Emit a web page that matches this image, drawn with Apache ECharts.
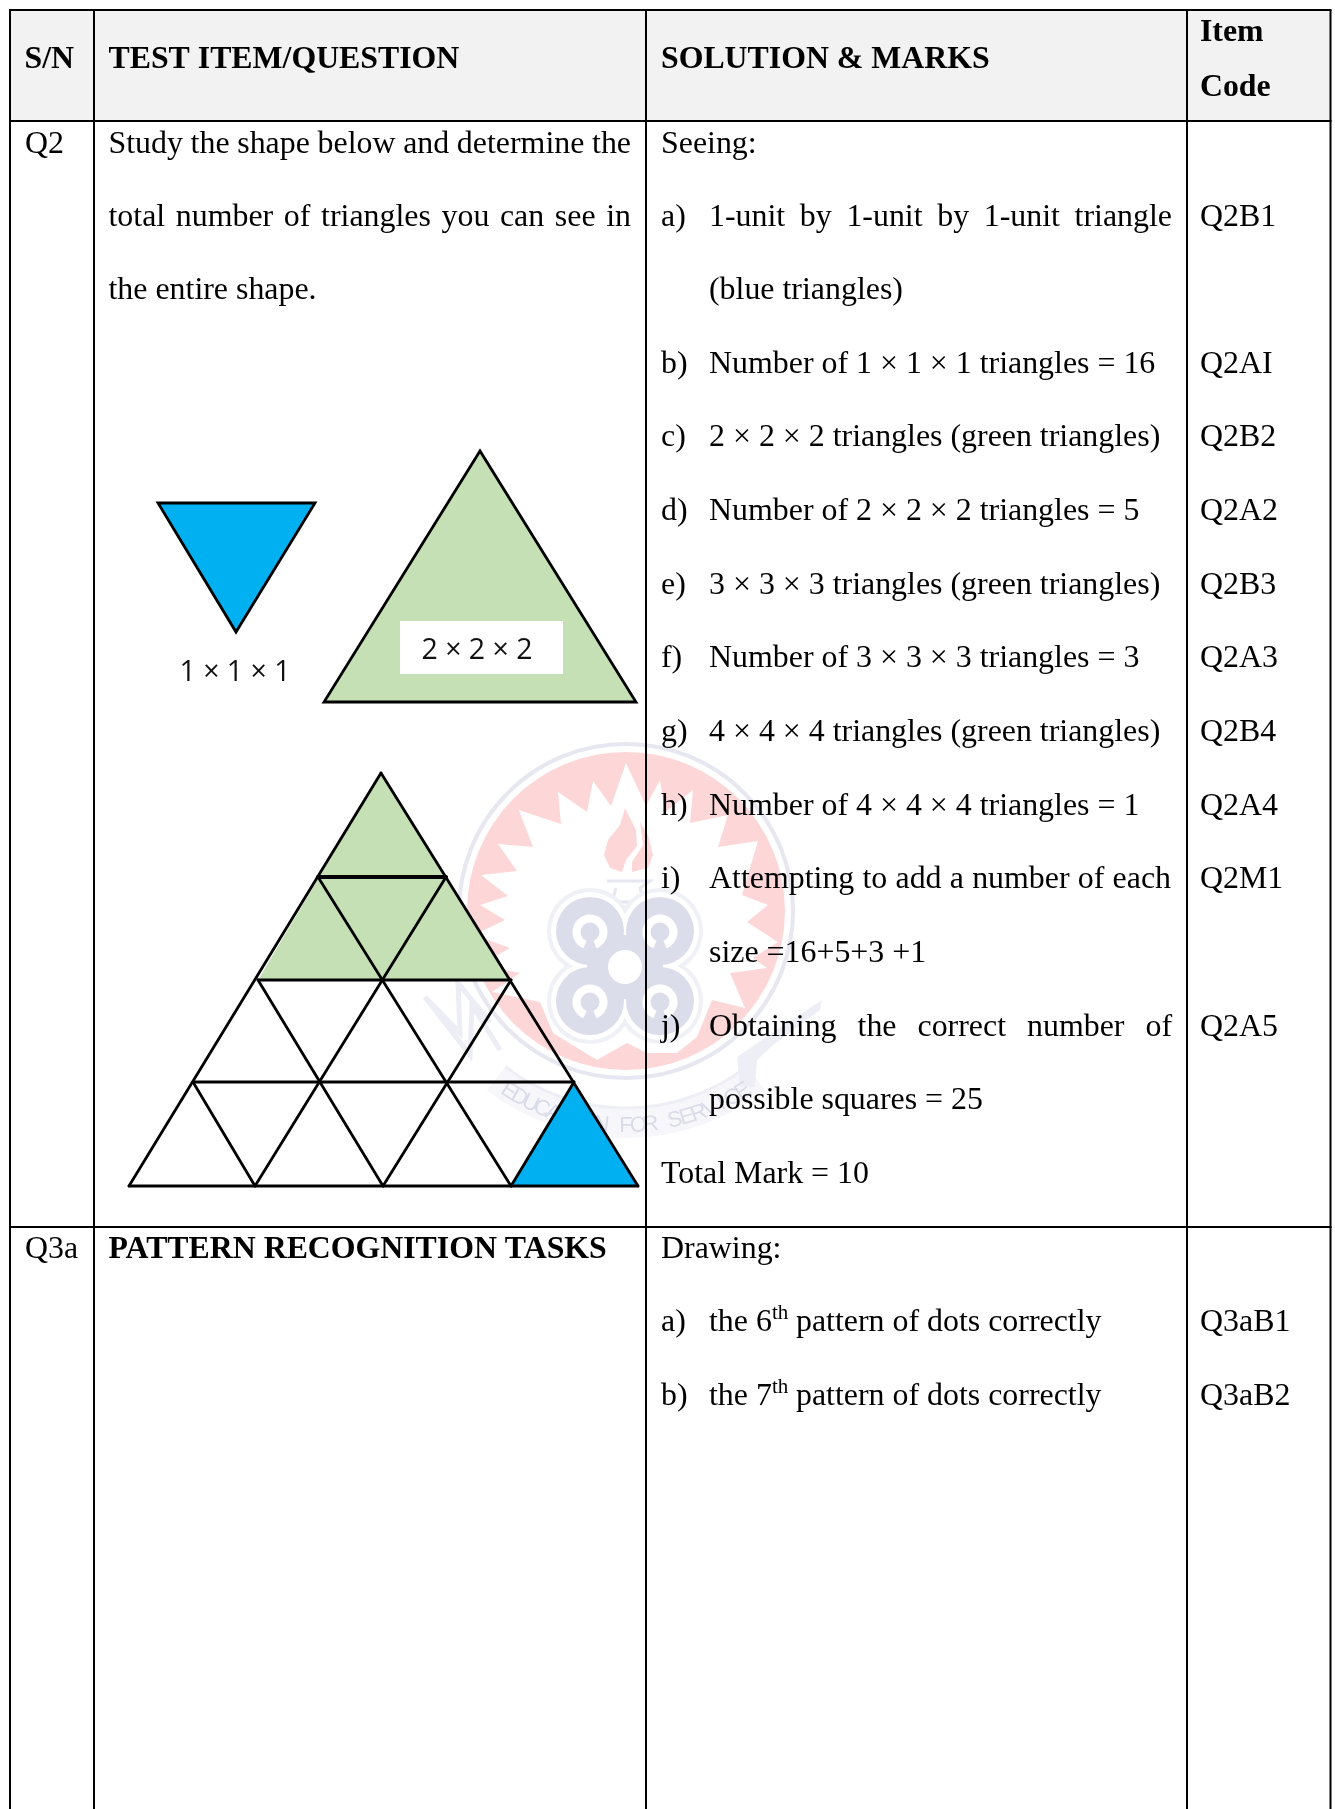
<!DOCTYPE html>
<html>
<head>
<meta charset="utf-8">
<style>
  html, body { margin: 0; padding: 0; background: #fff; }
  #chart { width: 1335px; height: 1809px; }
</style>
<script src="https://cdn.jsdelivr.net/npm/echarts@6/dist/echarts.min.js"></script>
</head>
<body>
<div id="chart"></div>
<script>
// table frame
const columnEdges = [10, 94, 646, 1187, 1330.5]
const rowEdges = [10, 121, 1227]
const pageBottom = 1809

// table text: [x, baseline, text, right edge if the line is justified]
const headerLines = [
  [24.5, 69, 'S/N'], [108.5, 69, 'TEST ITEM/QUESTION'], [661, 69, 'SOLUTION & MARKS'],
  [1200, 41.5, 'Item'], [1200, 97, 'Code'], [108.5, 1259, 'PATTERN RECOGNITION TASKS'],
]
const bodyLines = [
  [25, 153, 'Q2'], [25, 1258.5, 'Q3a'],
  [108.5, 153, 'Study the shape below and determine the', 631],
  [108.5, 226, 'total number of triangles you can see in', 631],
  [108.5, 299, 'the entire shape.'],
  [661, 153, 'Seeing:'],
  [661, 226, 'a)'], [709, 226, '1-unit by 1-unit by 1-unit triangle', 1172],
  [709, 299, '(blue triangles)'],
  [661, 373, 'b)'], [709, 373, 'Number of 1 × 1 × 1 triangles = 16'],
  [661, 446, 'c)'], [709, 446, '2 × 2 × 2 triangles (green triangles)'],
  [661, 520, 'd)'], [709, 520, 'Number of 2 × 2 × 2 triangles = 5'],
  [661, 594, 'e)'], [709, 594, '3 × 3 × 3 triangles (green triangles)'],
  [661, 667, 'f)'], [709, 667, 'Number of 3 × 3 × 3 triangles = 3'],
  [661, 741, 'g)'], [709, 741, '4 × 4 × 4 triangles (green triangles)'],
  [661, 815, 'h)'], [709, 815, 'Number of 4 × 4 × 4 triangles = 1'],
  [661, 888, 'i)'], [709, 888, 'Attempting to add a number of each', 1171],
  [709, 962, 'size =16+5+3 +1'],
  [661, 1036, 'j)'], [709, 1036, 'Obtaining the correct number of', 1172],
  [709, 1109, 'possible squares = 25'],
  [661, 1183, 'Total Mark = 10'],
  [661, 1258.5, 'Drawing:'],
  [661, 1331, 'a)'], [709, 1331, 'the 6'], [796, 1331, 'pattern of dots correctly'],
  [661, 1405, 'b)'], [709, 1405, 'the 7'], [796, 1405, 'pattern of dots correctly'],
  [1200, 226, 'Q2B1'], [1200, 373, 'Q2AI'], [1200, 446, 'Q2B2'], [1200, 520, 'Q2A2'],
  [1200, 594, 'Q2B3'], [1200, 667, 'Q2A3'], [1200, 741, 'Q2B4'], [1200, 815, 'Q2A4'],
  [1200, 888, 'Q2M1'], [1200, 1036, 'Q2A5'], [1200, 1331, 'Q3aB1'], [1200, 1405, 'Q3aB2'],
]
const superscripts = [[772, 1319, 'th'], [772, 1393, 'th']]

// key shapes above the figure
const blueKey = [[158, 503], [315, 503], [236, 632]]
const greenKey = [[480, 451], [324, 702], [636, 702]]
const keyBox = [[400, 621], [563, 621], [563, 674], [400, 674]]
const keyLabels = [[235, 673, '1 × 1 × 1'], [477, 651, '2 × 2 × 2']]

// the big triangle made of small ones
const greenPart = [[381, 773], [258, 980], [511, 980]]
const bluePart = [[574, 1082], [511, 1186], [638, 1186]]
const figureEdges = [
  [[381, 773], [129, 1186]], [[381, 773], [638, 1186]],
  [[258, 980], [511, 980]], [[193, 1082], [574, 1082]], [[129, 1186], [638, 1186]],
  [[318, 877], [511, 1186]], [[258, 980], [383, 1186]], [[193, 1082], [255, 1186]],
  [[446, 877], [255, 1186]], [[511, 980], [383, 1186]], [[574, 1082], [511, 1186]],
]
const thickEdge = [[[318, 877], [446, 877]]]

// faded crest behind the table
const crestCenter = [626, 911]
const crestStar = [
  [626, 763], [611, 806], [593, 781], [587, 812], [558, 792], [561, 824], [519, 810], [533, 847],
  [498, 844], [517, 871], [481, 875], [508, 896], [480, 905], [505, 920], [474, 935], [510, 948],
  [480, 965], [520, 973], [492, 992], [540, 1002], [553, 1033], [597, 1060], [627, 1043], [647, 1053],
  [677, 1053], [697, 1037], [712, 1000], [745, 1008], [730, 973], [767, 968], [753, 958], [778, 942],
  [747, 922], [768, 905], [742, 895], [758, 841], [718, 847], [728, 815], [690, 823], [693, 790], [665, 812], [660, 780], [646, 806],
]
const flameLeft = [[625, 808], [620, 825], [608, 840], [604, 855], [610, 868], [622, 872], [626, 860], [637, 846], [636, 830]]
const flameRight = [[632, 872], [648, 868], [653, 855], [648, 835], [640, 822], [643, 845], [632, 862]]
const lampTop = [[607, 881], [650, 881], [640, 888], [644, 902], [612, 902], [616, 888]]
const crestLobes = [[590, 931], [660, 931], [590, 1001], [660, 1001]]
const leftWing = [
  [[425, 997], [460, 1033], [458, 983], [490, 1022]],
  [[425, 997], [470, 1055], [472, 1005], [500, 1050]],
]
const rightWing = [[822, 1000], [820, 1010], [773, 1045], [757, 1060], [755, 1087], [740, 1087], [737, 1057], [787, 1023]]
const crestMotto = 'EDUCATION FOR SERVICE'

const bodyFont = '31.9px "Liberation Serif"'
const boldFont = 'bold 31.8px "Liberation Serif"'
const supFont = '21px "Liberation Serif"'
const keyFont = '28.5px "Open Sans"'
const measure = document.createElement('canvas').getContext('2d')

const chart = echarts.init(document.getElementById('chart'))

function polygon(api, points, style) {
  return { type: 'polygon', shape: { points: points.map((p) => api.coord(p)) }, style }
}

function polyline(api, points, style) {
  return { type: 'polyline', shape: { points: points.map((p) => api.coord(p)) }, style: { fill: null, ...style } }
}

// y is the baseline; zrender places text by its middle
function textItem(api, x, baseline, text, font, size, fill) {
  const [px, py] = api.coord([x, baseline])
  return { type: 'text', style: { x: px, y: py - size * 0.3375 + 2, text, font, fill, align: 'left', verticalAlign: 'middle' } }
}

function lineItems(api, line, font, size) {
  const [x, baseline, text, rightEdge] = line
  if (!rightEdge) return [textItem(api, x, baseline, text, font, size, '#000')]
  measure.font = font
  const words = text.split(' ')
  const used = words.reduce((sum, w) => sum + measure.measureText(w).width, 0)
  const gap = (rightEdge - x - used) / (words.length - 1)
  let cursor = x
  return words.map((w) => {
    const item = textItem(api, cursor, baseline, w, font, size, '#000')
    cursor += measure.measureText(w).width + gap
    return item
  })
}

function crestItems(api) {
  const blue = '#dcddeb'
  const pale = '#e6e7f1'
  const pink = '#fdd6d7'
  const [cx, cy] = api.coord(crestCenter)
  const items = [
    { type: 'arc', shape: { cx, cy, r: 212, startAngle: Math.PI * 0.29, endAngle: Math.PI * 0.71, clockwise: true }, style: { fill: null, stroke: '#f7f7fb', lineWidth: 30 } },
    { type: 'arc', shape: { cx, cy, r: 197, startAngle: Math.PI * 0.29, endAngle: Math.PI * 0.71, clockwise: true }, style: { fill: null, stroke: '#eeeef6', lineWidth: 3 } },
    polygon(api, rightWing, { fill: '#eeeef6' }),
    { type: 'circle', shape: { cx, cy, r: 159 }, style: { fill: pink } },
    { type: 'circle', shape: { cx, cy, r: 167 }, style: { fill: null, stroke: pale, lineWidth: 4 } },
    polygon(api, crestStar, { fill: '#fff' }),
    polygon(api, flameLeft, { fill: pink }),
    polygon(api, flameRight, { fill: pink }),
    polyline(api, lampTop, { stroke: pale, lineWidth: 3 }),
  ]
  leftWing.forEach((w) => items.push(polyline(api, w, { stroke: '#ecedf5', lineWidth: 5 })))
  const center = api.coord([625, 967])
  crestLobes.forEach((p) => {
    const c = api.coord(p)
    items.push({ type: 'circle', shape: { cx: c[0], cy: c[1], r: 43 }, style: { fill: '#f0f0f7' } })
  })
  crestLobes.forEach((p) => {
    const c = api.coord(p)
    items.push({ type: 'circle', shape: { cx: c[0], cy: c[1], r: 39 }, style: { fill: '#fff' } })
  })
  crestLobes.forEach((p) => {
    const c = api.coord(p)
    items.push({ type: 'circle', shape: { cx: c[0], cy: c[1], r: 34 }, style: { fill: blue } })
  })
  items.push({ type: 'rect', shape: { x: center[0] - 38, y: center[1] - 32, width: 76, height: 64 }, style: { fill: blue } })
  crestLobes.forEach((p) => {
    const c = api.coord(p)
    items.push({ type: 'arc', shape: { cx: c[0], cy: c[1] + 1, r: 13.5, startAngle: Math.PI * 0.62, endAngle: Math.PI * 0.38, clockwise: true }, style: { fill: null, stroke: '#fff', lineWidth: 8 } })
    items.push({ type: 'circle', shape: { cx: c[0], cy: c[1] + 1, r: 6 }, style: { fill: blue } })
  })
  items.push({ type: 'circle', shape: { cx: center[0], cy: center[1], r: 17 }, style: { fill: '#fff' } })
  const letters = crestMotto.split('')
  letters.forEach((ch, i) => {
    const a = (-33 + (66 * i) / (letters.length - 1)) * Math.PI / 180
    items.push({
      type: 'text', x: cx + Math.sin(a) * 215, y: cy + Math.cos(a) * 215, rotation: a,
      style: { x: 0, y: 0, text: ch, font: '22px "Liberation Sans"', fill: '#dadbe9', align: 'center', verticalAlign: 'middle' },
    })
  })
  return items
}

const layer = (renderItem, z) => ({
  type: 'custom', coordinateSystem: 'cartesian2d', silent: true, z, clip: false, animation: false,
  data: [[0, 0]], renderItem: (params, api) => ({ type: 'group', children: renderItem(api) }),
})

const edgeStyle = { stroke: '#000', lineWidth: 2.8, lineCap: 'round' }

chart.setOption({
  animation: false,
  backgroundColor: '#fff',
  tooltip: { show: false },
  grid: { left: 0, right: 0, top: 0, bottom: 0 },
  xAxis: { type: 'value', min: 0, max: 1335, show: false },
  yAxis: { type: 'value', min: 0, max: pageBottom, inverse: true, show: false },
  series: [
    layer((api) => [polygon(api, [[columnEdges[0], rowEdges[0]], [columnEdges[4], rowEdges[0]], [columnEdges[4], rowEdges[1]], [columnEdges[0], rowEdges[1]]], { fill: '#f2f2f2' })], 1),
    layer(crestItems, 2),
    layer((api) => [
      polygon(api, greenPart, { fill: '#c5e0b4' }),
      polygon(api, bluePart, { fill: '#00b0f0' }),
      polygon(api, blueKey, { fill: '#00b0f0', stroke: '#000', lineWidth: 2.8 }),
      polygon(api, greenKey, { fill: '#c5e0b4', stroke: '#000', lineWidth: 2.8 }),
      polygon(api, keyBox, { fill: '#fff' }),
      ...figureEdges.map((e) => polyline(api, e, edgeStyle)),
      ...thickEdge.map((e) => polyline(api, e, { ...edgeStyle, lineWidth: 4 })),
    ], 3),
    layer((api) => [
      ...columnEdges.map((x) => polyline(api, [[x, rowEdges[0]], [x, pageBottom]], { stroke: '#000', lineWidth: 2 })),
      ...rowEdges.map((y) => polyline(api, [[columnEdges[0] - 1, y], [columnEdges[4] + 1, y]], { stroke: '#000', lineWidth: 2 })),
    ], 4),
    layer((api) => [
      ...headerLines.flatMap((l) => lineItems(api, l, boldFont, 31.8)),
      ...bodyLines.flatMap((l) => lineItems(api, l, bodyFont, 31.9)),
      ...superscripts.map(([x, y, t]) => textItem(api, x, y, t, supFont, 21, '#000')),
      ...keyLabels.map(([x, y, t]) => {
        const [px, py] = api.coord([x, y])
        return { type: 'text', style: { x: px, y: py, text: t, font: keyFont, fill: '#111', align: 'center', verticalAlign: 'middle' } }
      }),
    ], 5),
  ],
})
</script>
</body>
</html>
